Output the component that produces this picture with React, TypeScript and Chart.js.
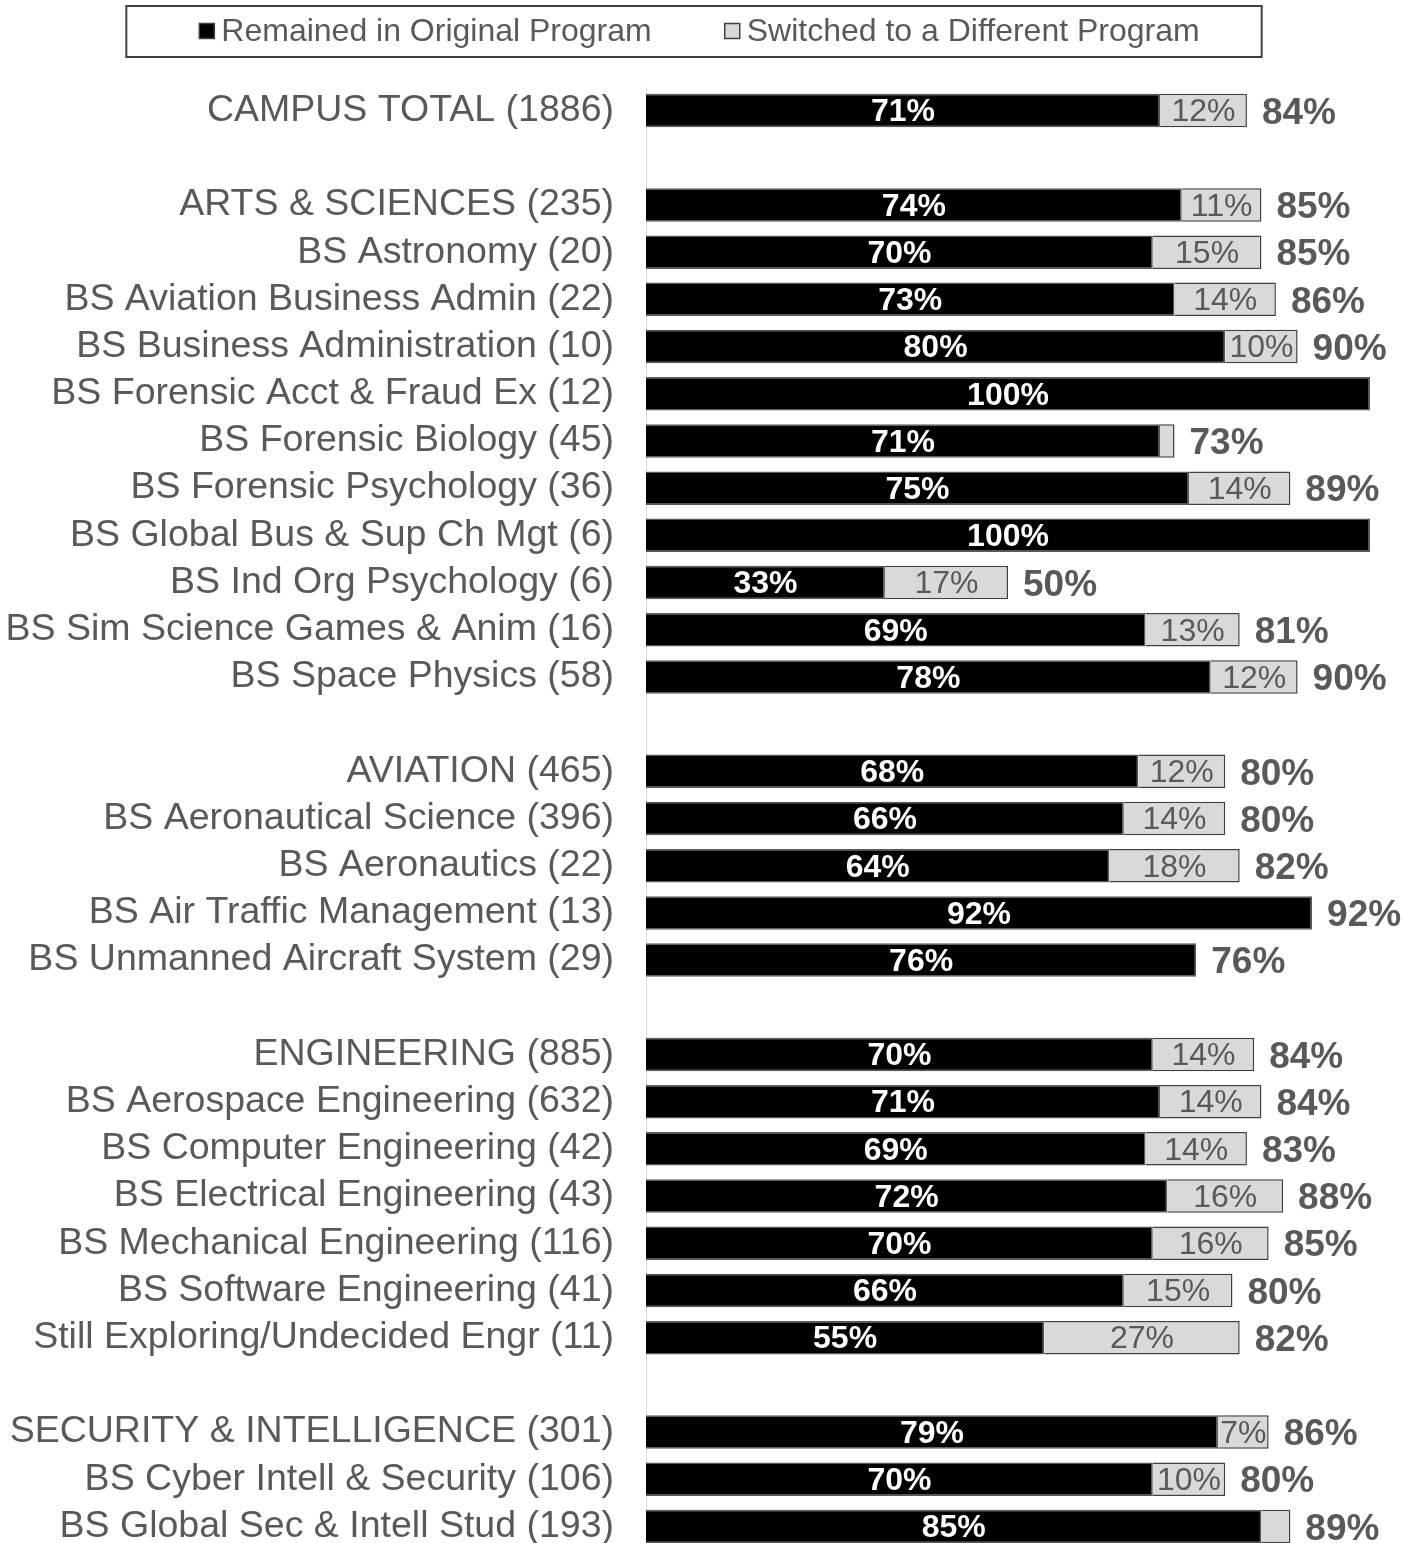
import React, { useEffect, useRef } from "react";
import { Chart, registerables } from "chart.js";

Chart.register(...registerables);

const categories: string[] = [
  "CAMPUS TOTAL (1886)",
  "",
  "ARTS & SCIENCES (235)",
  "BS Astronomy (20)",
  "BS Aviation Business Admin (22)",
  "BS Business Administration (10)",
  "BS Forensic Acct & Fraud Ex (12)",
  "BS Forensic Biology (45)",
  "BS Forensic Psychology (36)",
  "BS Global Bus & Sup Ch Mgt (6)",
  "BS Ind Org Psychology (6)",
  "BS Sim Science Games & Anim (16)",
  "BS Space Physics (58)",
  "",
  "AVIATION (465)",
  "BS Aeronautical Science (396)",
  "BS Aeronautics (22)",
  "BS Air Traffic Management (13)",
  "BS Unmanned Aircraft System (29)",
  "",
  "ENGINEERING (885)",
  "BS Aerospace Engineering (632)",
  "BS Computer Engineering (42)",
  "BS Electrical Engineering (43)",
  "BS Mechanical Engineering (116)",
  "BS Software Engineering (41)",
  "Still Exploring/Undecided Engr (11)",
  "",
  "SECURITY & INTELLIGENCE (301)",
  "BS Cyber Intell & Security (106)",
  "BS Global Sec & Intell Stud (193)",
];

const remained: (number | null)[] = [
  71, null,
  74, 70, 73, 80, 100, 71, 75, 100, 33, 69, 78, null,
  68, 66, 64, 92, 76, null,
  70, 71, 69, 72, 70, 66, 55, null,
  79, 70, 85,
];

const switched: (number | null)[] = [
  12, null,
  11, 15, 14, 10, null, 2, 14, null, 17, 13, 12, null,
  12, 14, 18, null, null, null,
  14, 14, 14, 16, 16, 15, 27, null,
  7, 10, 4,
];

const totals: (number | null)[] = [
  84, null,
  85, 85, 86, 90, null, 73, 89, null, 50, 81, 90, null,
  80, 80, 82, 92, 76, null,
  84, 84, 83, 88, 85, 80, 82, null,
  86, 80, 89,
];

const seriesNames = ["Remained in Original Program", "Switched to a Different Program"];
const FONT = "'Liberation Sans', Arial, Helvetica, sans-serif";
const TEXT = "#595959";

const labelPlugin = {
  id: "barLabels",
  afterDatasetsDraw(chart: any) {
    const ctx = chart.ctx;
    const m0 = chart.getDatasetMeta(0);
    const m1 = chart.getDatasetMeta(1);
    ctx.save();
    ctx.textBaseline = "middle";
    for (let i = 0; i < categories.length; i++) {
      const r = remained[i];
      if (r == null) continue;
      const e0 = m0.data[i];
      ctx.font = `bold 32px ${FONT}`;
      ctx.fillStyle = "#ffffff";
      ctx.textAlign = "center";
      ctx.fillText(`${r}%`, (e0.base + e0.x) / 2, e0.y + 2);
      const s = switched[i];
      let endX = e0.x;
      if (s != null) {
        const e1 = m1.data[i];
        endX = e1.x;
        if (s >= 5) {
          ctx.font = `32px ${FONT}`;
          ctx.fillStyle = TEXT;
          ctx.fillText(`${s}%`, (e1.base + e1.x) / 2, e1.y + 2);
        }
      }
      const t = totals[i];
      if (t != null) {
        ctx.font = `bold 37px ${FONT}`;
        ctx.fillStyle = TEXT;
        ctx.textAlign = "left";
        ctx.fillText(`${t}%`, endX + 15, e0.y + 3);
      }
    }
    ctx.restore();
  },
};

const legendPlugin = {
  id: "boxLegend",
  afterDraw(chart: any) {
    const ctx = chart.ctx;
    const ds = chart.data.datasets;
    ctx.save();
    ctx.font = `32px ${FONT}`;
    const box = 15;
    const gap = 7;
    const between = 73;
    const widths = ds.map((d: any) => ctx.measureText(d.label).width);
    const total = widths.reduce((a: number, w: number) => a + box + gap + w, 0) + between * (ds.length - 1);
    let x = chart.width / 2 - total / 2 - 4;
    const cy = 31;
    const startX = x;
    ds.forEach((d: any, i: number) => {
      ctx.fillStyle = d.backgroundColor;
      ctx.fillRect(x, cy - box / 2, box, box);
      ctx.lineWidth = 1.5;
      ctx.strokeStyle = "#404040";
      ctx.strokeRect(x, cy - box / 2, box, box);
      ctx.fillStyle = TEXT;
      ctx.textAlign = "left";
      ctx.textBaseline = "middle";
      ctx.fillText(d.label, x + box + gap, cy + 1);
      x += box + gap + widths[i] + between;
    });
    const endX = x - between;
    ctx.lineWidth = 2;
    ctx.strokeStyle = "#404040";
    ctx.strokeRect(startX - 73, 6, endX - startX + 73 + 62, 51);
    ctx.restore();
  },
};

export default function App() {
  const ref = useRef<HTMLCanvasElement | null>(null);
  useEffect(() => {
    if (!ref.current) return;
    const chart = new Chart(ref.current, {
      type: "bar",
      data: {
        labels: categories,
        datasets: [
          {
            label: seriesNames[0],
            data: remained,
            backgroundColor: "#000000",
            borderColor: "#595959",
            borderWidth: 1.5,
            barPercentage: 0.71,
            categoryPercentage: 1,
          },
          {
            label: seriesNames[1],
            data: switched,
            backgroundColor: "#d9d9d9",
            borderColor: "#404040",
            borderWidth: 1.5,
            barPercentage: 0.71,
            categoryPercentage: 1,
          },
        ],
      },
      options: {
        indexAxis: "y",
        animation: false,
        responsive: false,
        maintainAspectRatio: false,
        devicePixelRatio: 1,
        layout: { padding: { top: 87, right: 37, bottom: 0, left: 0 } },
        plugins: {
          legend: { display: false },
          tooltip: { enabled: false },
        },
        scales: {
          x: {
            stacked: true,
            min: 0,
            max: 100,
            display: false,
          },
          y: {
            stacked: true,
            grid: { display: false, drawTicks: false },
            border: { display: true, color: "#d9d9d9", width: 1 },
            ticks: {
              autoSkip: false,
              padding: 32,
              color: TEXT,
              font: { family: FONT, size: 37.5 },
            },
            afterFit: (s: any) => {
              s.width = 646;
              s.paddingTop = 0;
              s.paddingBottom = 0;
            },
          },
        },
      },
      plugins: [labelPlugin, legendPlugin],
    });
    return () => chart.destroy();
  }, []);
  return (
    <div
      style={{
        position: "absolute",
        left: 0,
        top: 0,
        width: 1407,
        height: 1543,
        overflow: "hidden",
        background: "#ffffff",
      }}
    >
      <canvas ref={ref} width={1407} height={1550} style={{ display: "block" }} />
    </div>
  );
}
